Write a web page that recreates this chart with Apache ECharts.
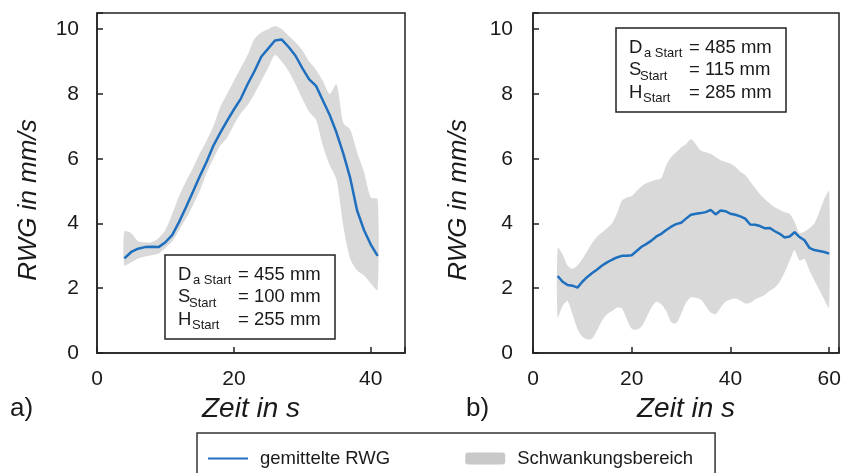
<!DOCTYPE html>
<html>
<head>
<meta charset="utf-8">
<script src="https://cdn.jsdelivr.net/npm/echarts@6/dist/echarts.min.js"></script>
<style>
html, body { margin: 0; padding: 0; background: #fff; }
#chart { width: 853px; height: 473px; }
</style>
</head>
<body>
<div id="chart"></div>
<script>
// a) Zeit in s
const timeA = [4, 5, 6, 7, 8, 9, 10, 11, 12, 13, 14, 15, 16, 17, 18, 19, 20, 21, 22, 23,
    24, 25, 26, 27, 28, 29, 30, 31, 32, 33, 34, 35, 36, 37, 38, 39, 40, 41]
const meanA = [2.92, 3.12, 3.22, 3.27, 3.28, 3.27, 3.42, 3.65, 4.05, 4.5, 4.97, 5.45, 5.9, 6.4, 6.8, 7.17, 7.52, 7.85, 8.3, 8.7,
    9.15, 9.4, 9.65, 9.68, 9.45, 9.18, 8.8, 8.45, 8.25, 7.8, 7.35, 6.8, 6.15, 5.4, 4.4, 3.8, 3.35, 3.0]
const upperA = [3.75, 3.7, 3.45, 3.42, 3.42, 3.55, 3.8, 4.3, 4.85, 5.3, 5.7, 6.15, 6.55, 7.0, 7.6, 8.0, 8.4, 8.8, 9.2, 9.7,
    9.9, 10.0, 10.1, 10.0, 9.8, 9.6, 9.35, 9.0, 8.75, 8.4, 8.0, 8.3, 7.1, 6.9, 6.2, 5.6, 4.8, 4.75]
const lowerA = [2.7, 2.8, 2.92, 2.98, 3.02, 3.07, 3.25, 3.45, 3.8, 4.15, 4.55, 5.0, 5.55, 6.0, 6.4, 6.65, 7.05, 7.4, 7.65, 8.0,
    8.4, 8.8, 9.2, 9.0, 8.7, 8.3, 7.85, 7.45, 7.2, 6.4, 5.8, 5.35, 3.9, 2.9, 2.55, 2.4, 2.15, 1.95]

// b) Zeit in s
const timeB = [5, 6, 7, 8, 9, 10, 11, 12, 13, 14, 15, 16, 17, 18, 19, 20, 21, 22, 23, 24,
    25, 26, 27, 28, 29, 30, 31, 32, 33, 34, 35, 36, 37, 38, 39, 40, 41, 42, 43, 44,
    45, 46, 47, 48, 49, 50, 51, 52, 53, 54, 55, 56, 57, 58, 59, 60]
const meanB = [2.38, 2.2, 2.1, 2.08, 2.02, 2.2, 2.35, 2.47, 2.58, 2.7, 2.8, 2.88, 2.95, 3.0, 3.0, 3.02, 3.15, 3.28, 3.37, 3.47,
    3.6, 3.68, 3.8, 3.9, 3.98, 4.02, 4.15, 4.27, 4.3, 4.32, 4.35, 4.42, 4.28, 4.4, 4.38, 4.3, 4.27, 4.22, 4.15, 3.97,
    3.96, 3.92, 3.85, 3.86, 3.76, 3.68, 3.57, 3.6, 3.73, 3.58, 3.48, 3.25, 3.18, 3.15, 3.12, 3.07]
const upperB = [3.25, 3.05, 2.7, 2.6, 2.7, 2.9, 3.15, 3.4, 3.6, 3.72, 3.85, 4.0, 4.3, 4.7, 4.8, 4.85, 5.0, 5.15, 5.25, 5.3,
    5.35, 5.4, 5.8, 6.05, 6.2, 6.35, 6.45, 6.6, 6.45, 6.25, 6.2, 6.15, 6.05, 5.95, 5.9, 5.85, 5.75, 5.6, 5.5, 5.3,
    5.1, 4.9, 4.75, 4.62, 4.5, 4.42, 4.35, 4.3, 4.05, 3.7, 3.75, 3.85, 4.0, 4.35, 4.75, 5.0]
const lowerB = [1.1, 1.45, 1.6, 1.2, 0.75, 0.5, 0.42, 0.45, 0.7, 1.0, 1.2, 1.3, 1.4, 1.38, 1.05, 0.75, 0.72, 0.82, 1.1, 1.4,
    1.58, 1.5, 1.3, 0.95, 0.92, 1.2, 1.55, 1.72, 1.7, 1.65, 1.45, 1.25, 1.2, 1.4, 1.58, 1.65, 1.68, 1.62, 1.53, 1.55,
    1.65, 1.72, 1.8, 1.92, 2.02, 2.2, 2.5, 2.85, 3.17, 2.85, 2.9, 2.55, 2.25, 1.95, 1.65, 1.4]

const yTicks = [0, 2, 4, 6, 8, 10]
const xTicksA = [0, 20, 40]
const xTicksB = [0, 20, 40, 60]
const startA = ['455 mm', '100 mm', '255 mm']
const startB = ['485 mm', '115 mm', '285 mm']

const FONT = 'Liberation Sans, Arial, sans-serif'
const BLUE = '#1e6fbe'
const GRAY = '#d9d9d9'
const INK = '#1a1a1a'

const pairs = (t, v) => t.map((x, i) => [x, v[i]])

const makeX = (idx, max, ticks) => ({
    type: 'value', gridIndex: idx, min: 0, max: max, interval: 20,
    axisLine: { show: true, lineStyle: { color: '#222', width: 1.5 } },
    axisTick: { inside: true, length: 6, lineStyle: { color: '#222', width: 1.5 } },
    axisLabel: {
        margin: 16, fontSize: 21, color: INK, fontFamily: FONT,
        formatter: v => ticks.includes(v) ? String(v) : ''
    },
    splitLine: { show: false },
    name: 'Zeit in s', nameLocation: 'middle', nameGap: 42,
    nameTextStyle: { fontStyle: 'italic', fontSize: 28, color: INK, fontFamily: FONT }
})

const makeY = (idx, gap, margin) => ({
    type: 'value', gridIndex: idx, min: 0, max: 10.5, interval: 2,
    axisLine: { show: true, lineStyle: { color: '#222', width: 1.5 } },
    axisTick: { inside: true, length: 6, lineStyle: { color: '#222', width: 1.5 } },
    axisLabel: {
        margin: margin, fontSize: 21, color: INK, fontFamily: FONT,
        formatter: v => yTicks.includes(v) ? String(v) : ''
    },
    splitLine: { show: false },
    name: 'RWG in mm/s', nameLocation: 'middle', nameGap: gap,
    nameTextStyle: { fontStyle: 'italic', fontSize: 26, color: INK, fontFamily: FONT, padding: [0, 34, 0, 0] }
})

// Schwankungsbereich: polygon between lower and upper bound, placed via the axes
const bandSeries = (idx, t, lo, hi) => ({
    name: 'Schwankungsbereich', type: 'custom', xAxisIndex: idx, yAxisIndex: idx,
    data: t.map((x, i) => [x, lo[i], hi[i]]),
    encode: { x: 0, y: [1, 2] },
    itemStyle: { color: GRAY },
    silent: true, z: 1,
    renderItem: (params, api) => {
        if (params.dataIndex !== 0) return
        const pts = []
        for (let i = 0; i < t.length; i++) pts.push(api.coord([t[i], hi[i]]))
        for (let i = t.length - 1; i >= 0; i--) pts.push(api.coord([t[i], lo[i]]))
        return { type: 'polygon', shape: { points: pts, smooth: 0.25 }, style: { fill: GRAY } }
    }
})

const meanSeries = (idx, t, v) => ({
    name: 'gemittelte RWG', type: 'line', xAxisIndex: idx, yAxisIndex: idx,
    data: pairs(t, v), symbol: 'none', lineStyle: { color: BLUE, width: 2.5 }, itemStyle: { color: BLUE }, z: 3
})

// Startparameter box
const startBox = (bx, by, vals) => {
    const subs = ['a Start', 'Start', 'Start']
    const mains = ['D', 'S', 'H']
    const subX = [15, 11, 14]
    const children = [{
        type: 'rect', z: 100, shape: { x: bx, y: by, width: 170, height: 84 },
        style: { fill: '#fff', stroke: '#222', lineWidth: 1.5 }
    }]
    mains.forEach((m, i) => {
        const cy = by + 19.5 + i * 22.5
        children.push({ type: 'text', z: 101, x: bx + 13, y: cy, style: { text: m, font: '18.5px ' + FONT, fill: INK, verticalAlign: 'middle' } })
        children.push({ type: 'text', z: 101, x: bx + 13 + subX[i], y: cy + 6, style: { text: subs[i], font: '13px ' + FONT, fill: INK, verticalAlign: 'middle' } })
        children.push({ type: 'text', z: 101, x: bx + 73, y: cy, style: { text: '= ' + vals[i], font: '18.5px ' + FONT, fill: INK, verticalAlign: 'middle' } })
    })
    return { type: 'group', z: 100, children: children }
}

const chart = echarts.init(document.getElementById('chart'), null, { renderer: 'canvas' })
chart.setOption({
    animation: false,
    backgroundColor: '#fff',
    textStyle: { fontFamily: FONT },
    grid: [
        { left: 97, top: 13, width: 308, height: 340, show: true, borderColor: '#222', borderWidth: 1.5 },
        { left: 533, top: 13, width: 306, height: 340, show: true, borderColor: '#222', borderWidth: 1.5 }
    ],
    xAxis: [makeX(0, 45, xTicksA), makeX(1, 62, xTicksB)],
    yAxis: [makeY(0, 55, 18), makeY(1, 61, 20)],
    legend: {
        left: 197, top: 433, orient: 'horizontal',
        borderColor: '#333', borderWidth: 1.5, borderRadius: 0,
        padding: [16, 22, 16, 10], itemGap: 75, itemWidth: 40, itemHeight: 12,
        textStyle: { fontSize: 18.5, color: INK, fontFamily: FONT, padding: [0, 0, 0, 7] },
        data: [
            { name: 'gemittelte RWG', itemStyle: { opacity: 0 } },
            { name: 'Schwankungsbereich', icon: 'roundRect', itemStyle: { color: '#c8c8c8' } }
        ]
    },
    graphic: [
        startBox(165, 255, startA),
        startBox(616, 28, startB),
        { type: 'text', z: 100, x: 10, y: 409, style: { text: 'a)', font: '26px ' + FONT, fill: INK, verticalAlign: 'middle' } },
        { type: 'text', z: 100, x: 466, y: 409, style: { text: 'b)', font: '26px ' + FONT, fill: INK, verticalAlign: 'middle' } }
    ],
    series: [
        bandSeries(0, timeA, lowerA, upperA),
        meanSeries(0, timeA, meanA),
        bandSeries(1, timeB, lowerB, upperB),
        meanSeries(1, timeB, meanB)
    ]
})
</script>
</body>
</html>
